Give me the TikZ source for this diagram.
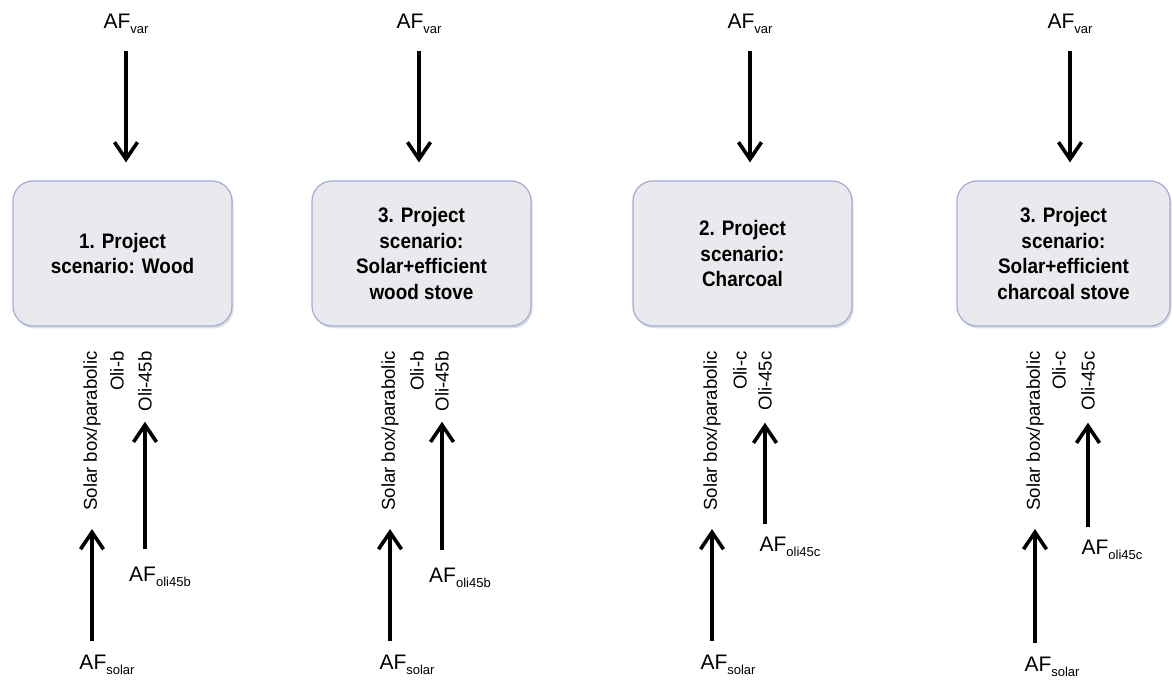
\documentclass[tikz,border=0pt]{standalone}
\usepackage{fontspec}
\setmainfont{Liberation Sans}
\newfontfamily\boxfont[FakeStretch=0.9]{Liberation Sans}
\usetikzlibrary{arrows.meta,shadows}
\definecolor{boxgray}{RGB}{234,234,238}
\definecolor{boxline}{RGB}{160,172,212}
\newcommand{\af}[1]{AF\raisebox{-0.4ex}{\fontsize{6.5}{7}\selectfont #1}}
\tikzset{
  scen/.style={draw=boxline, fill=boxgray, line width=0.6pt, rounded corners=10pt,
    minimum width=109.5pt, minimum height=72.5pt, align=center,
    font=\boxfont\bfseries\fontsize{10.5}{12.8}\selectfont,
    drop shadow={shadow xshift=0.8pt, shadow yshift=-1.2pt, opacity=0.25}},
  var/.style={inner sep=0pt, font=\fontsize{10.5}{12}\selectfont},
  lab/.style={rotate=90, anchor=east, inner sep=0pt, font=\fontsize{9.3}{11}\selectfont},
  arr/.style={line width=1.8pt, -{Straight Barb[length=8.5pt,width=11.5pt,line width=1.8pt]}}
}
\begin{document}
\begin{tikzpicture}[x=0.5pt, y=-0.5pt]
    \useasboundingbox (0,0) rectangle (1172,684);
    % 1. wood
    \node[var] (v1) at (126,24) {\af{var}};
    \node[scen] (b1) at (122.5,253.5) {1. Project\\scenario: Wood};
    \node[lab] (p1) at (92,351) {Solar box/parabolic};
    \node[lab] (c1) at (117,351) {Oli-b};
    \node[lab] (q1) at (145,351) {Oli-45b};
    \node[var] (s1) at (107,665) {\af{solar}};
    \node[var] (o1) at (160,577) {\af{oli45b}};
    \draw[arr, shorten <=8.5pt, shorten >=9pt] (v1.south) -- (v1.south |- b1.north);
    \draw[arr, shorten <=7pt, shorten >=9pt] (p1.west |- s1.north) -- (p1.west);
    \draw[arr, shorten <=9pt, shorten >=5pt] (q1.west |- o1.north) -- (q1.west);
    % 3. wood stove
    \node[var] (v2) at (419,24) {\af{var}};
    \node[scen] (b2) at (421.5,253.5) {3. Project\\scenario:\\Solar+efficient\\wood stove};
    \node[lab] (p2) at (390,351) {Solar box/parabolic};
    \node[lab] (c2) at (417,351) {Oli-b};
    \node[lab] (q2) at (442,351) {Oli-45b};
    \node[var] (s2) at (407,665) {\af{solar}};
    \node[var] (o2) at (460,578) {\af{oli45b}};
    \draw[arr, shorten <=8.5pt, shorten >=9pt] (v2.south) -- (v2.south |- b2.north);
    \draw[arr, shorten <=7pt, shorten >=9pt] (p2.west |- s2.north) -- (p2.west);
    \draw[arr, shorten <=9pt, shorten >=5pt] (q2.west |- o2.north) -- (q2.west);
    % 2. charcoal
    \node[var] (v3) at (750,24) {\af{var}};
    \node[scen] (b3) at (742.5,253.5) {2. Project\\scenario:\\Charcoal};
    \node[lab] (p3) at (712,351) {Solar box/parabolic};
    \node[lab] (c3) at (740,351) {Oli-c};
    \node[lab] (q3) at (765,351) {Oli-45c};
    \node[var] (s3) at (728,665) {\af{solar}};
    \node[var] (o3) at (790,547) {\af{oli45c}};
    \draw[arr, shorten <=8.5pt, shorten >=9pt] (v3.south) -- (v3.south |- b3.north);
    \draw[arr, shorten <=7pt, shorten >=9pt] (p3.west |- s3.north) -- (p3.west);
    \draw[arr, shorten <=6.5pt, shorten >=6pt] (q3.west |- o3.north) -- (q3.west);
    % 3. charcoal stove
    \node[var] (v4) at (1070,24) {\af{var}};
    \node[scen, minimum width=106.5pt] (b4) at (1063.5,253.5) {3. Project\\scenario:\\Solar+efficient\\charcoal stove};
    \node[lab] (p4) at (1035,351) {Solar box/parabolic};
    \node[lab] (c4) at (1059,351) {Oli-c};
    \node[lab] (q4) at (1088,351) {Oli-45c};
    \node[var] (s4) at (1052,667) {\af{solar}};
    \node[var] (o4) at (1112,550) {\af{oli45c}};
    \draw[arr, shorten <=8.5pt, shorten >=9pt] (v4.south) -- (v4.south |- b4.north);
    \draw[arr, shorten <=7pt, shorten >=9pt] (p4.west |- s4.north) -- (p4.west);
    \draw[arr, shorten <=6.5pt, shorten >=6pt] (q4.west |- o4.north) -- (q4.west);
\end{tikzpicture}
\end{document}
